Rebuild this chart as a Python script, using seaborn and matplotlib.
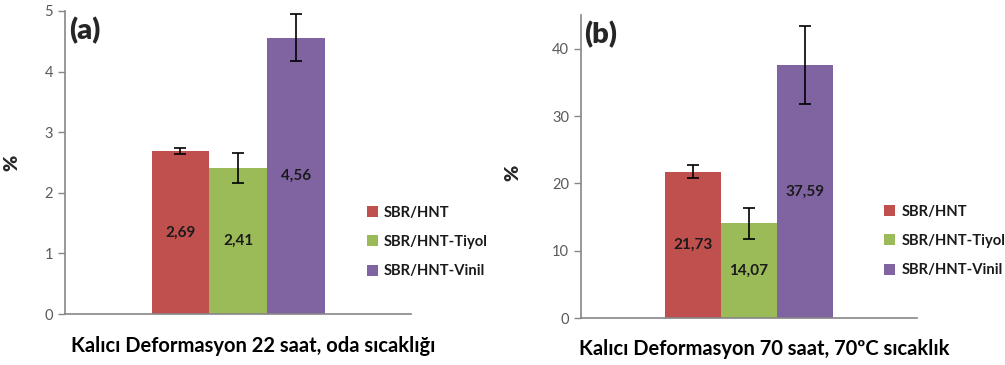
import matplotlib
matplotlib.use("Agg")
import matplotlib.pyplot as plt
import matplotlib.transforms as mtransforms
from matplotlib.patches import Patch
import seaborn as sns
import pandas as pd

groups = ["SBR/HNT", "SBR/HNT-Tiyol", "SBR/HNT-Vinil"]
colors = ["#C0504D", "#9BBB59", "#8064A2"]

cat_a = "Kalıcı Deformasyon 22 saat, oda sıcaklığı"
vals_a = [2.69, 2.41, 4.56]
err_a = [0.05, 0.25, 0.39]

cat_b = "Kalıcı Deformasyon 70 saat, 70ºC sıcaklık"
vals_b = [21.73, 14.07, 37.59]
err_b = [1.0, 2.3, 5.8]

sns.set_style("white")
plt.rcParams["font.family"] = ["Lato", "DejaVu Sans"]

fig = plt.figure(figsize=(10.05, 3.65), dpi=100)
ax_a = fig.add_axes([65/1005, 1-314/365, 346/1005, 303/365])
ax_b = fig.add_axes([581/1005, 1-318/365, 336/1005, 303/365])

axis_col = "#868686"
tick_col = "#595959"

def panel(ax, cat, vals, errs, ylim, yticks, tag, tag_xy, ylab_xy, leg_anchor, pad, tpad):
    df = pd.DataFrame({"cat": [cat]*len(groups), "group": groups, "value": vals})
    sns.barplot(data=df, x="cat", y="value", hue="group", hue_order=groups,
                palette=colors, width=0.5, errorbar=None, ax=ax,
                legend=False, linewidth=0, saturation=1)
    ax.set_xlim(-0.5, 0.5)
    ax.set_ylim(*ylim)
    ax.set_yticks(yticks)
    for cont, e, v in zip(ax.containers, errs, vals):
        p = cont.patches[0]
        xc = p.get_x() + p.get_width()/2
        ax.errorbar([xc], [p.get_height()], yerr=[e], fmt="none", ecolor="black",
                    elinewidth=1.2, capsize=4, capthick=1.2)
        ax.bar_label(cont, labels=[f"{v:.2f}".replace(".", ",")], label_type="center",
                     fontsize=11, fontweight="bold", color="#1a1a1a")
    for s in ["top", "right"]:
        ax.spines[s].set_visible(False)
    for s in ["left", "bottom"]:
        ax.spines[s].set_color(axis_col)
        ax.spines[s].set_linewidth(1.2)
    ax.tick_params(axis="y", left=True, length=5, width=1, color=axis_col,
                   labelsize=10.5, labelcolor=tick_col)
    ax.tick_params(axis="x", bottom=False, length=0, pad=pad, labelsize=14.5)
    for lbl in ax.get_xticklabels():
        lbl.set_fontweight("bold")
        lbl.set_color("black")
        lbl.set_transform(lbl.get_transform() +
                          mtransforms.ScaledTranslation(15/100, 0, fig.dpi_scale_trans))
    ax.set_xlabel("")
    ax.set_ylabel("%", fontsize=14, fontweight="heavy")
    ax.yaxis.set_label_coords(*ylab_xy)
    ax.text(tag_xy[0], tag_xy[1], tag, transform=ax.transAxes, fontsize=21,
            fontweight="heavy", va="center", ha="left")
    handles = [Patch(facecolor=c, edgecolor="none") for c in colors]
    leg = fig.legend(handles, groups, loc="center left", bbox_to_anchor=leg_anchor,
                     frameon=False, fontsize=10.6, handlelength=0.75, handleheight=0.75,
                     handletextpad=tpad, labelspacing=1.05, borderpad=0, borderaxespad=0)
    for t in leg.get_texts():
        t.set_fontweight("bold")
        t.set_color("#1a1a1a")

panel(ax_a, cat_a, vals_a, err_a, (0, 5), [0, 1, 2, 3, 4, 5], "(a)",
      (0.012, 0.935), (-0.13, 0.50), (367/1005, 1-242/365), 16, 0.35)
panel(ax_b, cat_b, vals_b, err_b, (0, 45), [0, 10, 20, 30, 40], "(b)",
      (0.010, 0.937), (-0.176, 0.48), (884/1005, 1-241/365), 15, 0.45)

fig.savefig("out.png", dpi=100)
